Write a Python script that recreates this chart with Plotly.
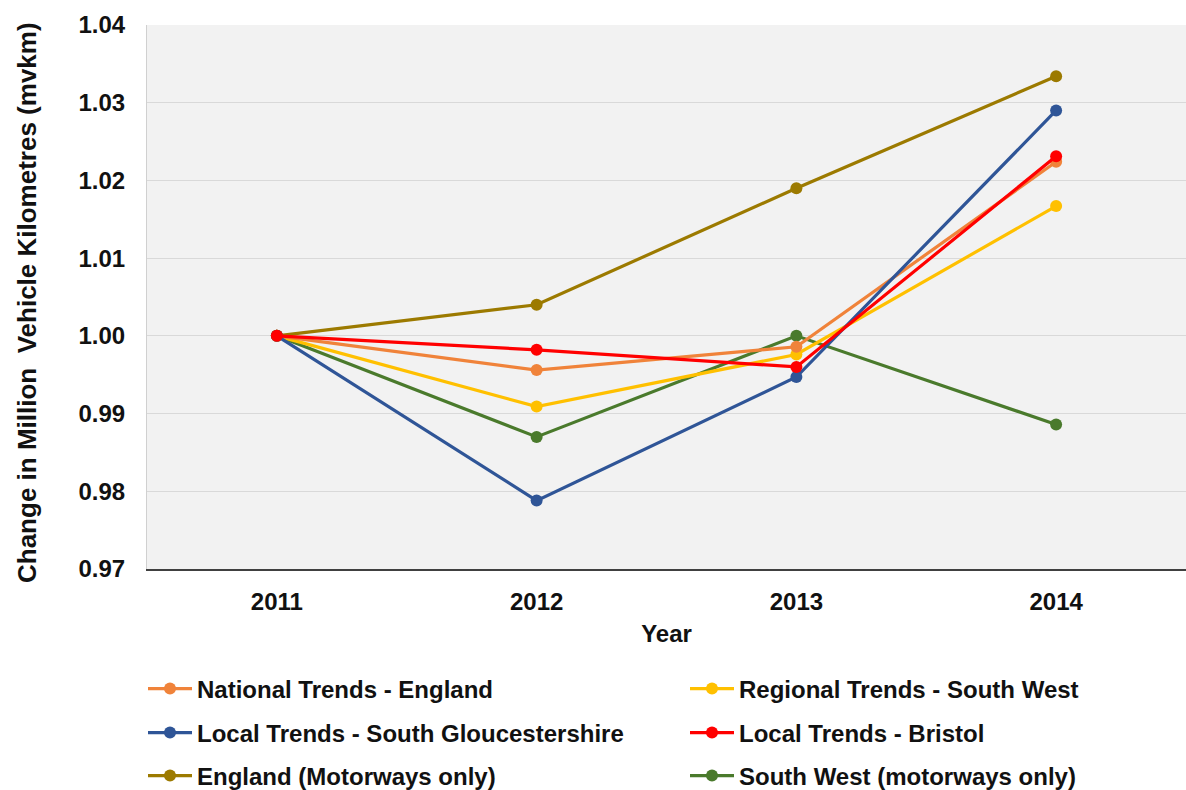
import plotly.graph_objects as go

years = ["2011", "2012", "2013", "2014"]

national_england = [1.0000, 0.9956, 0.9986, 1.0224]
regional_south_west = [1.0000, 0.9909, 0.9976, 1.0167]
local_south_glos = [1.0000, 0.9788, 0.9947, 1.0290]
local_bristol = [1.0000, 0.9982, 0.9960, 1.0231]
england_motorways = [1.0000, 1.0040, 1.0190, 1.0334]
south_west_motorways = [1.0000, 0.9870, 1.0000, 0.9886]

y_ticks = [0.97, 0.98, 0.99, 1.00, 1.01, 1.02, 1.03, 1.04]

# name, values, colour, legend slot (column, row)
series = [
    ("National Trends - England", national_england, "#F0833A", (0, 0)),
    ("Regional Trends - South West", regional_south_west, "#FFC000", (1, 0)),
    ("Local Trends - South Gloucestershire", local_south_glos, "#2F5597", (0, 1)),
    ("Local Trends - Bristol", local_bristol, "#FF0000", (1, 1)),
    ("England (Motorways only)", england_motorways, "#9C7A00", (0, 2)),
    ("South West (motorways only)", south_west_motorways, "#4A7A2C", (1, 2)),
]

# draw order: red and blue lines sit on top
draw_order = [4, 5, 1, 0, 2, 3]

FONT = "Liberation Sans, Arial, sans-serif"
TEXT = "#111111"
W, H = 1186, 790
M_L, M_T, M_B = 147, 25, 221
PLOT_W = W - M_L
PLOT_H = H - M_T - M_B

col_px = [143, 685]
row_px = [689, 733, 776]

fig = go.Figure()
legends = {}
for i in draw_order:
    name, vals, color, (col, row) = series[i]
    key = "legend" if i == 0 else f"legend{i + 1}"
    fig.add_trace(go.Scatter(
        x=years, y=vals, name=name, mode="lines+markers",
        line=dict(color=color, width=3.2),
        marker=dict(color=color, size=12),
        legend=key,
    ))
    legends[key] = dict(
        xref="container", yref="container",
        x=col_px[col] / W, y=1 - row_px[row] / H,
        xanchor="left", yanchor="middle",
        font=dict(family=FONT, size=24, color=TEXT, weight="bold"),
        bgcolor="rgba(0,0,0,0)", itemwidth=44,
    )

fig.update_layout(
    width=W, height=H,
    margin=dict(l=M_L, r=0, t=M_T, b=M_B, autoexpand=False),
    paper_bgcolor="white",
    plot_bgcolor="#F2F2F2",
    showlegend=True,
    font=dict(family=FONT, color=TEXT),
    **legends,
)

# vertical axis title, centred at x = 27 px
fig.add_annotation(
    text="Change in Million  Vehicle Kilometres (mvkm)",
    xref="paper", yref="paper", x=-(M_L - 27) / PLOT_W, y=(M_T + PLOT_H - 303) / PLOT_H,
    xanchor="center", yanchor="middle", textangle=-90, showarrow=False,
    font=dict(family=FONT, size=26, weight="bold", color=TEXT),
)

fig.update_xaxes(
    type="category", range=[-0.5, 3.5],
    showgrid=False, showline=True, linecolor="#404040", linewidth=1.5,
    ticks="", tickfont=dict(family=FONT, size=24, weight="bold", color=TEXT),
    ticklabelstandoff=10,
    title=dict(text="Year", font=dict(family=FONT, size=24, weight="bold", color=TEXT), standoff=12),
)

fig.update_yaxes(
    range=[0.97, 1.04], tickvals=y_ticks, tickformat=".2f",
    showgrid=True, gridcolor="#D9D9D9", gridwidth=1,
    showline=True, linecolor="#D0D0D0", linewidth=1,
    zeroline=False, ticks="",
    tickfont=dict(family=FONT, size=24, weight="bold", color=TEXT),
    ticklabelstandoff=16,
)

fig.write_html("out.html")
